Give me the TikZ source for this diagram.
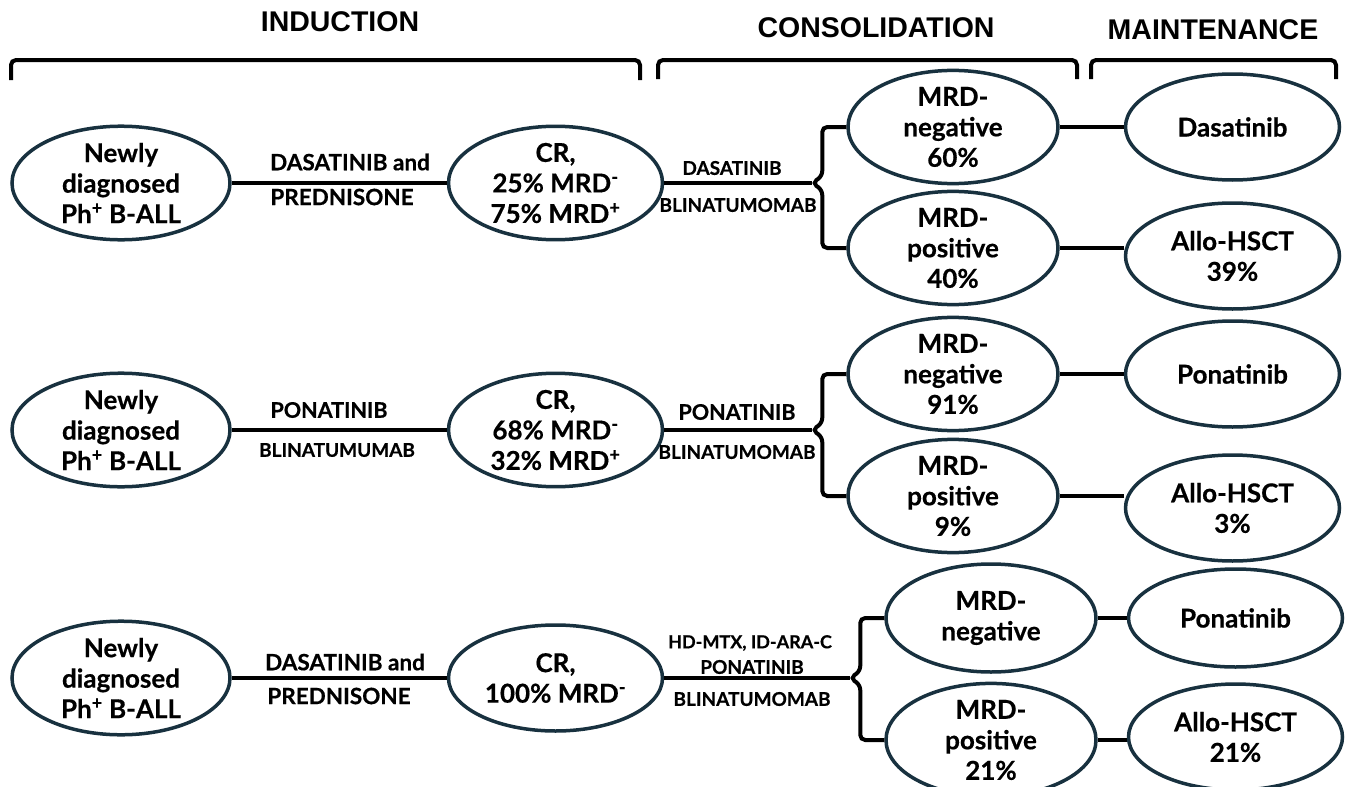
\documentclass[tikz,border=0pt]{standalone}
\usepackage{fontspec}
\setmainfont{Lato}[BoldFeatures={FakeBold=0.5}]
\newfontfamily\headfont{Liberation Sans}
\usetikzlibrary{shapes.geometric,positioning,calc}
\definecolor{navy}{HTML}{18313F}
\tikzset{
  conn/.style={line width=4pt,black},
  brc/.style={conn,rounded corners=5pt},
  oval/.style={ellipse,draw=navy,line width=3.5pt,inner sep=0pt,
    minimum width=214pt,minimum height=106pt,align=center,
    font=\fontsize{26}{30.5}\selectfont\bfseries},
  mrd/.style={oval,minimum width=210pt,minimum height=108pt},
  lab/.style={inner sep=0pt,font=\fontsize{22.5}{26}\selectfont\bfseries},
  slab/.style={inner sep=0pt,font=\fontsize{19}{24}\selectfont\bfseries},
  hd/.style={inner sep=0pt,font=\headfont\fontsize{28.5}{33}\selectfont\bfseries},
}

\begin{document}
\begin{tikzpicture}[x=1pt,y=-1pt]
\useasboundingbox (0,0) rectangle (1358,787);

% phases
\node[hd] (ind) at (340,22) {INDUCTION};
\node[hd] (cons) at (876,28) {CONSOLIDATION};
\node[hd] (mnt) at (1213,30) {MAINTENANCE};
\draw[brc] (11,80) |- (640,60) -- (640,80);
\draw[brc] (658,79) |- (1077,60) -- (1077,79);
\draw[brc] (1091,79) |- (1336,60) -- (1336,79);

% row 1
\node[oval,minimum width=218pt,minimum height=108pt] (n1) at (121,183) {Newly\\diagnosed\\Ph\textsuperscript{+} B-ALL};
\node[oval,right=215pt of n1] (cr1) {CR,\\25\% MRD\textsuperscript{-}\\75\% MRD\textsuperscript{+}};
\node[mrd] (mn1) at (953,127) {MRD-\\negative\\60\%};
\node[mrd] (mp1) at (953,248) {MRD-\\positive\\40\%};
\node[oval,right=64pt of mn1] (m1) {Dasatinib};
\node[oval,right=64pt of mp1,yshift=-8pt] (a1) {Allo-HSCT\\39\%};
\coordinate[right=148pt of cr1.east] (t1);

\draw[conn] (n1) -- (cr1);
\node[lab] at (350,162) {DASATINIB and};
\node[lab] at (342,197) {PREDNISONE};
\draw[conn] (cr1) -- (t1);
\node[slab] at (732,168) {DASATINIB};
\node[slab] at (738,205) {BLINATUMOMAB};
\draw[brc] (mn1.west) -| ($(t1)+(10,-7)$) -- (t1) -- ($(t1)+(10,7)$) |- (mp1.west);
\draw[conn] (mn1) -- (m1);
\draw[conn] (mp1.east) -- (mp1.east -| a1.west);

% row 2
\node[oval,minimum width=218pt,minimum height=108pt] (n2) at (121,430) {Newly\\diagnosed\\Ph\textsuperscript{+} B-ALL};
\node[oval,right=215pt of n2] (cr2) {CR,\\68\% MRD\textsuperscript{-}\\32\% MRD\textsuperscript{+}};
\node[mrd] (mn2) at (953,374) {MRD-\\negative\\91\%};
\node[mrd] (mp2) at (953,496) {MRD-\\positive\\9\%};
\node[oval,right=64pt of mn2] (p2) {Ponatinib};
\node[oval,right=64pt of mp2,yshift=-12pt] (a2) {Allo-HSCT\\3\%};
\coordinate[right=148pt of cr2.east] (t2);

\draw[conn] (n2) -- (cr2);
\node[lab,font=\fontsize{21.5}{26}\selectfont\bfseries] at (329,410) {PONATINIB};
\node[slab] at (337,450) {BLINATUMUMAB};
\draw[conn] (cr2) -- (t2);
\node[lab,font=\fontsize{21.5}{26}\selectfont\bfseries] at (737,412) {PONATINIB};
\node[slab] at (737,452) {BLINATUMOMAB};
\draw[brc] (mn2.west) -| ($(t2)+(10,-7)$) -- (t2) -- ($(t2)+(10,7)$) |- (mp2.west);
\draw[conn] (mn2) -- (p2);
\draw[conn] (mp2.east) -- (mp2.east -| a2.west);

% row 3
\node[oval,minimum width=218pt,minimum height=108pt] (n3) at (121,678) {Newly\\diagnosed\\Ph\textsuperscript{+} B-ALL};
\node[oval,right=215pt of n3] (cr3) {CR,\\100\% MRD\textsuperscript{-}};
\node[mrd] (mn3) at (991,618) {MRD-\\negative};
\node[mrd] (mp3) at (991,740) {MRD-\\positive\\21\%};
\node[oval,right=29pt of mn3,minimum height=98pt] (p3) {Ponatinib};
\node[oval,right=29pt of mp3,yshift=3pt] (a3) {Allo-HSCT\\21\%};
\coordinate[right=186pt of cr3.east] (t3);

\draw[conn] (n3) -- (cr3);
\node[lab] at (345,662) {DASATINIB and};
\node[lab] at (339,696) {PREDNISONE};
\draw[conn] (cr3) -- (t3);
\node[slab,font=\fontsize{18}{22}\selectfont\bfseries] at (750,643) {HD-MTX, ID-ARA-C};
\node[slab] at (752,667) {PONATINIB};
\node[slab] at (752,699) {BLINATUMOMAB};
\draw[brc] (mn3.west) -| ($(t3)+(10,-7)$) -- (t3) -- ($(t3)+(10,7)$) |- (mp3.west);
\draw[conn] (mn3) -- (p3);
\draw[conn] (mp3.east) -- (mp3.east -| a3.west);
\end{tikzpicture}
\end{document}
